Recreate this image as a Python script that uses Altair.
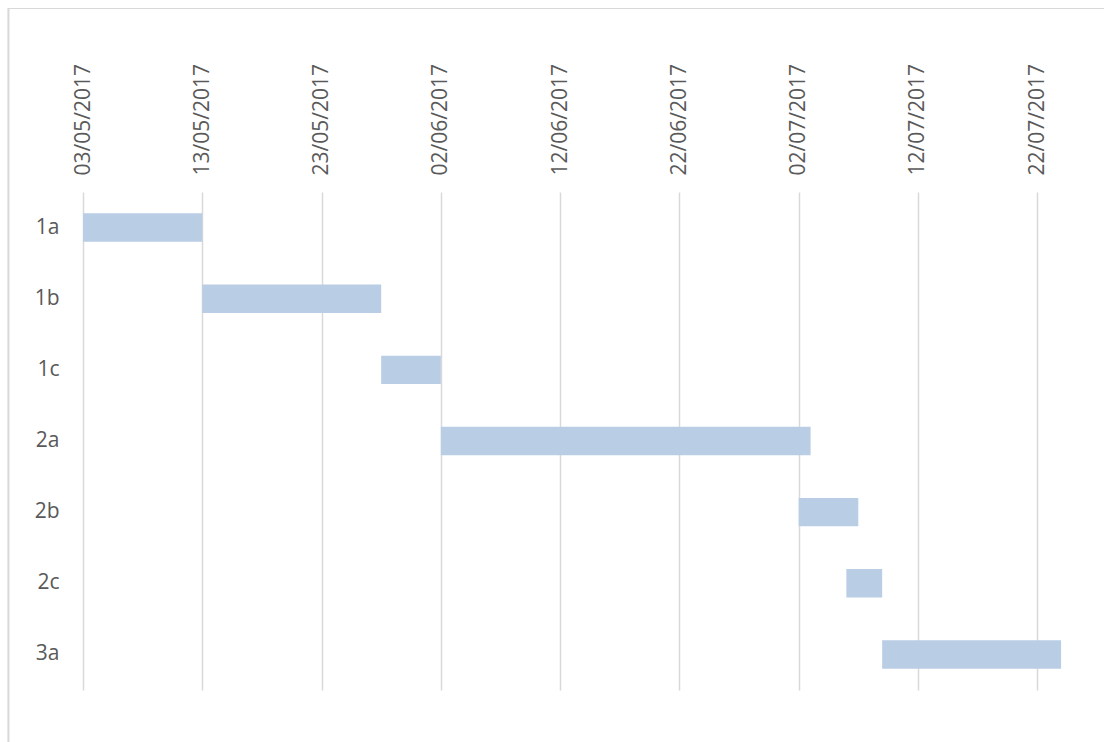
import altair as alt
import pandas as pd

# Project phases and their scheduled start / end dates
tasks = ["1a", "1b", "1c", "2a", "2b", "2c", "3a"]
starts = ["2017-05-03", "2017-05-13", "2017-05-28", "2017-06-02",
          "2017-07-02", "2017-07-06", "2017-07-09"]
ends = ["2017-05-13", "2017-05-28", "2017-06-02", "2017-07-03",
        "2017-07-07", "2017-07-09", "2017-07-24"]

# Date axis ticks every ten days
tick_dates = [(2017, 5, 3), (2017, 5, 13), (2017, 5, 23), (2017, 6, 2),
              (2017, 6, 12), (2017, 6, 22), (2017, 7, 2), (2017, 7, 12),
              (2017, 7, 22)]
axis_min = (2017, 5, 3)
axis_max = (2017, 7, 25)

df = pd.DataFrame({"task": tasks, "start": starts, "end": ends})


def dt(t):
    return alt.DateTime(year=t[0], month=t[1], date=t[2], utc=True)


FONT = "Open Sans"
LABEL = "#595959"
GRID = "#D9D9D9"

bars = alt.Chart(df).mark_bar(color="#B9CDE5").encode(
    x=alt.X(
        "start:T",
        scale=alt.Scale(type="utc", domain=[dt(axis_min), dt(axis_max)]),
        axis=alt.Axis(
            orient="top",
            values=[dt(t) for t in tick_dates],
            labelExpr="utcFormat(datum.value, '%d/%m/%Y')",
            labelAngle=-90,
            labelAlign="left",
            labelBaseline="middle",
            labelPadding=17,
            labelFont=FONT,
            labelFontSize=21,
            labelColor=LABEL,
            labelOverlap=False,
            labelFlush=False,
            ticks=False,
            domain=False,
            grid=True,
            gridColor=GRID,
            gridWidth=1.5,
            title=None,
        ),
    ),
    x2="end:T",
    y=alt.Y(
        "task:N",
        sort=tasks,
        scale=alt.Scale(paddingInner=0.6, paddingOuter=0.3),
        axis=alt.Axis(
            ticks=False,
            domain=False,
            grid=False,
            labelPadding=24,
            labelFont=FONT,
            labelFontSize=21,
            labelColor=LABEL,
            title=None,
        ),
    ),
)

# Outer chart frame (left and top edges)
frame_left = alt.Chart(df).mark_rule(color=GRID, strokeWidth=1.2).encode(
    x=alt.value(-74.5), y=alt.value(-184), y2=alt.value(560)
)
frame_top = alt.Chart(df).mark_rule(color=GRID, strokeWidth=1.2).encode(
    x=alt.value(-75), x2=alt.value(1030), y=alt.value(-183.5)
)

chart = alt.layer(frame_left, frame_top, bars).properties(
    width=990,
    height=498,
    background="white",
    autosize=alt.AutoSizeParams(type="none"),
    padding={"left": 83, "top": 192, "right": 31, "bottom": 52},
).configure_view(strokeWidth=0, stroke="transparent")

chart.save("out.html", embed_options={"renderer": "svg", "actions": False})
